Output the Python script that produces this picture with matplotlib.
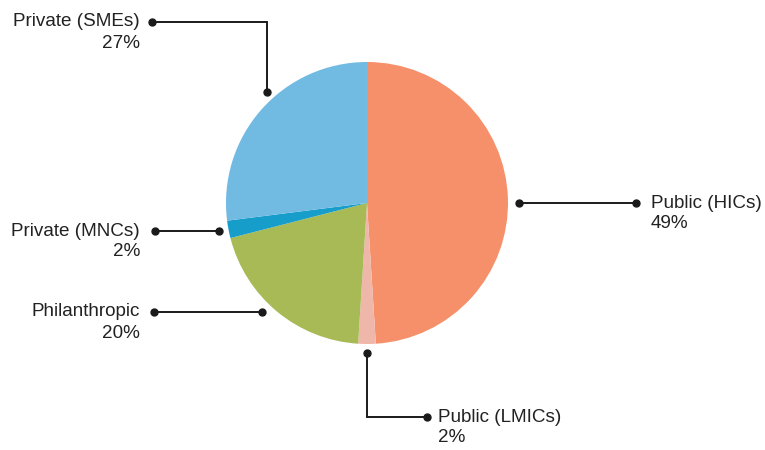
import matplotlib.pyplot as plt

plt.rcParams['font.family'] = ['Liberation Sans', 'DejaVu Sans']

W, H = 765, 450

# funding shares, clockwise from 12 o'clock
labels = ["Public (HICs)", "Public (LMICs)", "Philanthropic", "Private (MNCs)", "Private (SMEs)"]
shares = [49, 2, 20, 2, 27]
colors = ["#F6906A", "#EFB7A9", "#A7BA56", "#169DC9", "#71BAE2"]

# leader lines in pixel coords (y down): list of points, text anchor, alignment
leaders = [
    ([(519, 203), (636, 203)], (651, 203), "left"),
    ([(367, 353), (367, 417), (427, 417)], (438, 417), "left"),
    ([(262, 312), (154, 312)], (140, 312), "right"),
    ([(219, 231), (155, 231)], (140, 231), "right"),
    ([(267, 92), (267, 22), (152, 22)], (140, 22), "right"),
]

fig = plt.figure(figsize=(W / 100, H / 100), dpi=100)
ax = fig.add_axes([0, 0, 1, 1])


def fy(y):
    return H - y


ax.pie(shares, colors=colors, startangle=90, counterclock=False,
       center=(367, fy(203)), radius=141,
       wedgeprops=dict(linewidth=0))
ax.set_xlim(0, W)
ax.set_ylim(0, H)
ax.set_aspect('equal')
ax.axis('off')

for lab, val, (pts, (tx, ty), ha) in zip(labels, shares, leaders):
    xs = [p[0] for p in pts]
    ys = [fy(p[1]) for p in pts]
    ax.plot(xs, ys, color="#1a1a1a", lw=1.4, solid_joinstyle='miter')
    ax.plot([xs[0], xs[-1]], [ys[0], ys[-1]], 'o', color="#1a1a1a", ms=5)
    ax.text(tx, fy(ty), lab, ha=ha, va='center', fontsize=13.6, color="#222222")
    ax.text(tx, fy(ty + 21), f"{val}%", ha=ha, va='center', fontsize=13.6, color="#222222")

fig.savefig("out.png", dpi=100)
